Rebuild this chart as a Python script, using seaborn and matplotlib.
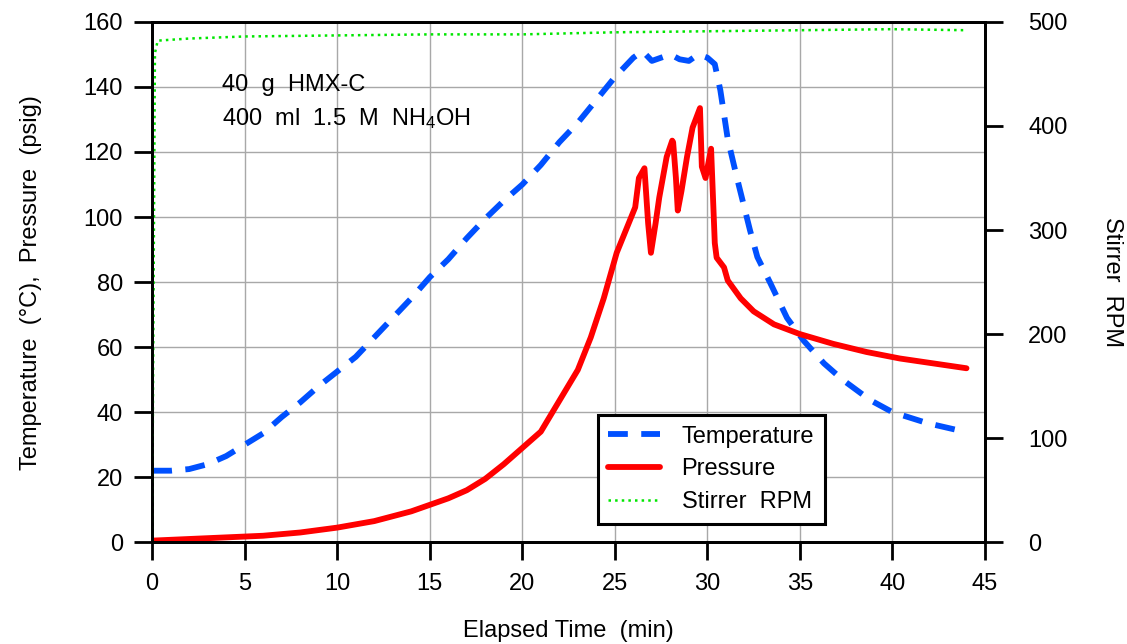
import numpy as np
import pandas as pd
import matplotlib
matplotlib.use("Agg")
import matplotlib.pyplot as plt
import seaborn as sns

# Data
temp_time = [0, 1, 2, 3, 4, 5, 6, 7, 8, 9, 10, 11, 12, 13, 14, 15, 16, 17, 18, 19,
             20, 21, 22, 23, 24, 25, 26, 26.5, 27, 27.5, 28, 28.5, 29, 29.5, 30, 30.4,
             30.7, 31.1, 31.6, 32.3, 32.7, 33.4, 34.3, 35.2, 36.3, 37.3, 38.8, 40,
             41.9, 43.5, 44]
temp_vals = [22, 22, 22.5, 24, 26.5, 30, 33.5, 38.5, 43, 48, 52.5, 57, 63, 69, 75,
             81.5, 87, 93.5, 99.5, 105, 110, 116, 123, 129, 136, 143, 149, 151, 148,
             149, 150, 148.5, 148, 150, 149, 147, 139, 124, 112, 96, 87.7, 79.7, 69,
             62, 55, 50, 43.7, 40, 36.6, 34.5, 34]

press_time = [0, 2, 4, 6, 8, 10, 12, 14, 15, 16, 17, 18, 19, 20, 21, 22, 23, 23.7,
              24.4, 25.1, 25.6, 26.1, 26.3, 26.6, 26.8, 26.95, 27.2, 27.4, 27.8, 28.1,
              28.15, 28.3, 28.4, 28.6, 28.9, 29.2, 29.6, 29.7, 29.9, 30.2, 30.4, 30.5,
              30.9, 31.1, 31.8, 32.5, 33.6, 35, 36.8, 38.6, 40.4, 42.2, 44]
press_vals = [0.5, 1, 1.5, 2, 3, 4.5, 6.5, 9.5, 11.5, 13.5, 16, 19.5, 24, 29, 34,
              43.5, 53, 63, 75, 89, 96, 103, 112, 115, 98, 89, 98, 106, 118.5, 123.5,
              123, 112, 102, 108, 118.5, 127.5, 133.5, 115.5, 112, 121, 92, 87.5, 84.5,
              80.5, 75, 71, 67, 64, 61, 58.5, 56.5, 55, 53.5]

rpm_time = [0, 0.15, 0.3, 2, 5, 10, 15, 20, 25, 30, 35, 40, 44]
rpm_vals = [0, 470, 482, 484, 486, 487, 488, 488, 490, 491, 492, 493, 492]

x_ticks = list(range(0, 50, 5))
left_ticks = list(range(0, 180, 20))
right_ticks = list(range(0, 600, 100))

sns.set_style("white")
plt.rcParams['font.family'] = ['Liberation Sans', 'DejaVu Sans']
plt.rcParams['mathtext.fontset'] = 'custom'
plt.rcParams['mathtext.rm'] = 'Liberation Sans'
plt.rcParams['mathtext.it'] = 'Liberation Sans'
plt.rcParams['mathtext.default'] = 'rm'
plt.rcParams['text.color'] = 'black'
plt.rcParams['axes.labelcolor'] = 'black'

FS = 17

fig = plt.figure(figsize=(11.27, 6.44), dpi=100)
ax = fig.add_axes([0.135, 0.158, 0.739, 0.808])
ax2 = ax.twinx()

temp_df = pd.DataFrame({'time': temp_time, 'value': temp_vals})
press_df = pd.DataFrame({'time': press_time, 'value': press_vals})
rpm_df = pd.DataFrame({'time': rpm_time, 'rpm': rpm_vals})

sns.lineplot(data=temp_df, x='time', y='value', ax=ax, color='#0050ff', lw=4.2,
             label='Temperature', legend=False)
ax.lines[-1].set_dashes([3.4, 2.3])
sns.lineplot(data=press_df, x='time', y='value', ax=ax, color='#ff0000', lw=4.2,
             label='Pressure', legend=False)
sns.lineplot(data=rpm_df, x='time', y='rpm', ax=ax2, color='#00e600', lw=1.8,
             linestyle=':', label='Stirrer  RPM', legend=False)

ax.set_xlim(0, 45)
ax.set_ylim(0, 160)
ax2.set_ylim(0, 500)
ax.set_xticks(x_ticks)
ax.set_yticks(left_ticks)
ax2.set_yticks(right_ticks)

ax.grid(True, color='#a8a8a8', lw=1)
for a in (ax, ax2):
    for s in a.spines.values():
        s.set_color('black')
        s.set_linewidth(2)
    a.tick_params(direction='out', length=13, width=2, labelsize=FS, colors='black')
ax.tick_params(axis='x', bottom=True, pad=9)
ax.tick_params(axis='y', left=True, pad=8)
ax2.tick_params(axis='y', right=True, pad=18)

ax.set_xlabel('Elapsed Time  (min)', fontsize=FS, labelpad=18)
ax.set_ylabel('Temperature  (°C),  Pressure  (psig)', fontsize=FS, labelpad=30)
ax2.set_ylabel('Stirrer  RPM', fontsize=FS, rotation=-90, labelpad=40)

ax.text(0.084, 0.879, '40  g  HMX-C', transform=ax.transAxes, fontsize=FS,
        va='center')
ax.text(0.084, 0.815, '400  ml  1.5  M  NH$_4$OH', transform=ax.transAxes,
        fontsize=FS, va='center')

handles = ax.get_lines()[:2] + ax2.get_lines()[:1]
labels = ['Temperature', 'Pressure', 'Stirrer  RPM']
leg = ax2.legend(handles, labels, loc='lower left', bbox_to_anchor=(0.535, 0.036),
                 borderaxespad=0, fontsize=FS, frameon=True, fancybox=False,
                 framealpha=1, edgecolor='black', handlelength=2.2, borderpad=0.45,
                 labelspacing=0.45, handletextpad=0.9)
leg.get_frame().set_linewidth(2.2)

fig.savefig('out.png', dpi=100)
